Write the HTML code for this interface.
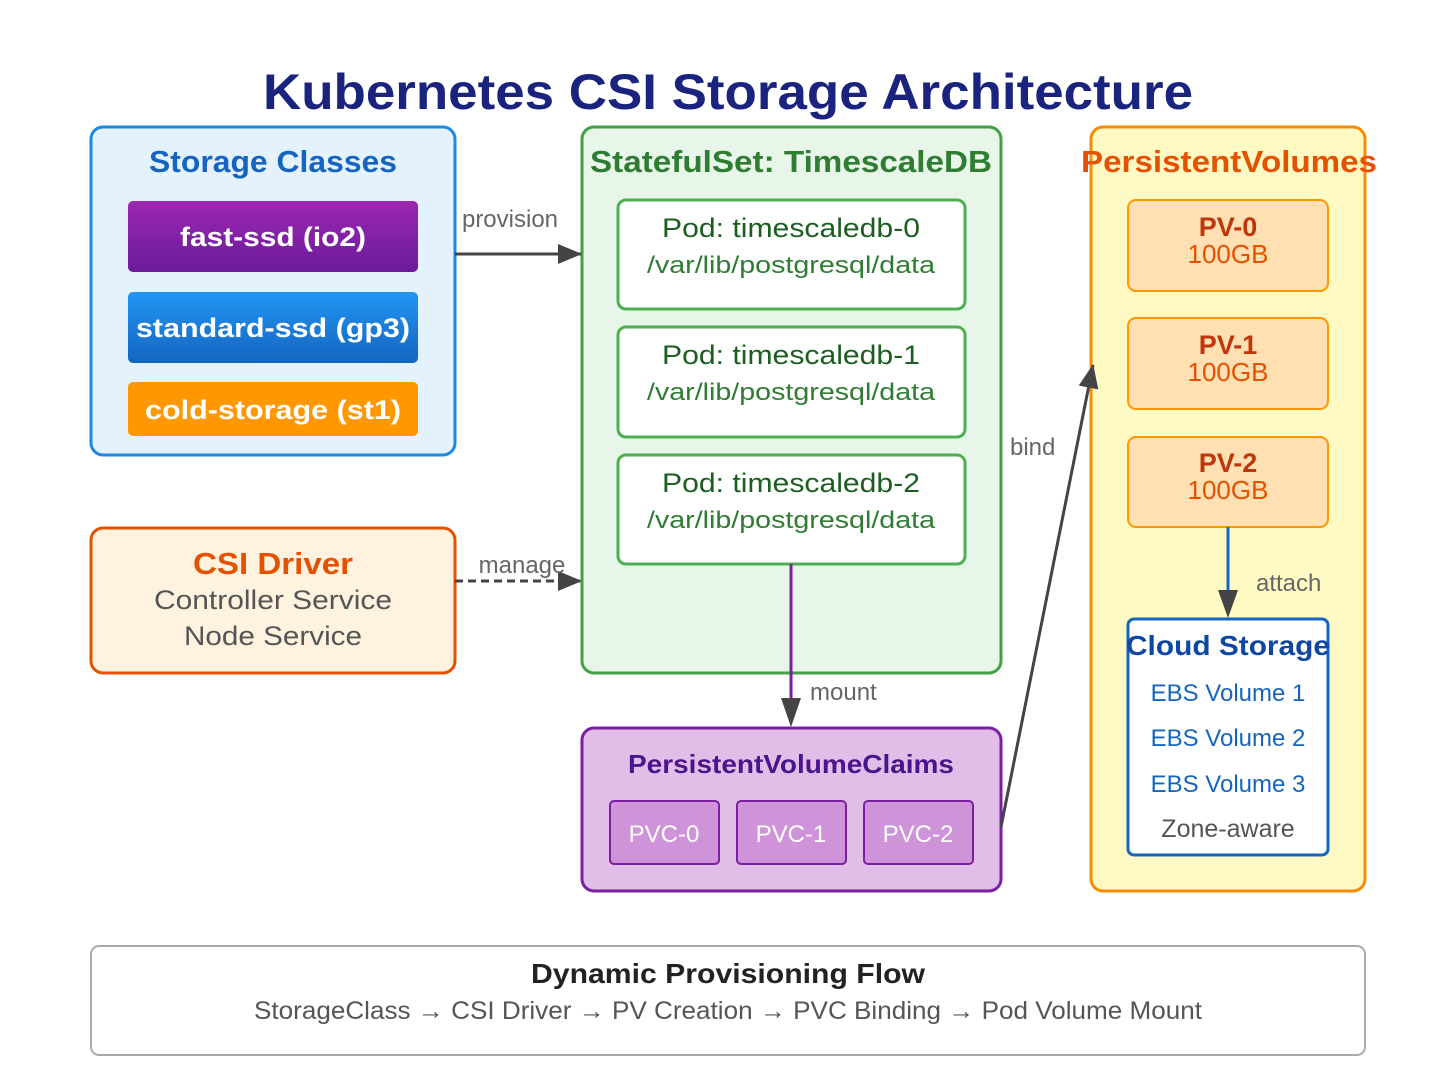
<!DOCTYPE html>
<html><head><meta charset="utf-8"><style>
html,body{margin:0;padding:0;background:#fff}
svg{display:block}
text{font-family:"Liberation Sans","DejaVu Sans",sans-serif}
</style></head><body>
<svg width="1456" height="1092" viewBox="0 0 1456 1092" xmlns="http://www.w3.org/2000/svg">
<defs>
<linearGradient id="gp" x1="0" y1="0" x2="0" y2="1"><stop offset="0" stop-color="#9c27b0"/><stop offset="1" stop-color="#6a1b9a"/></linearGradient>
<linearGradient id="gb" x1="0" y1="0" x2="0" y2="1"><stop offset="0" stop-color="#2196f3"/><stop offset="1" stop-color="#1565c0"/></linearGradient>
<marker id="ah2" markerWidth="24" markerHeight="20" refX="23" refY="10" orient="auto" markerUnits="userSpaceOnUse"><path d="M0,0 L24,10 L0,20 z" fill="#444"/></marker>
</defs>
<text x="728" y="109" text-anchor="middle" font-size="50" font-weight="bold" fill="#1a237e" textLength="930" lengthAdjust="spacingAndGlyphs">Kubernetes CSI Storage Architecture</text>

<rect x="91" y="127" width="364" height="328" rx="12" fill="#e3f2fd" stroke="#1e88e5" stroke-width="3"/>
<text x="273" y="172" text-anchor="middle" font-size="31" font-weight="bold" fill="#1565c0" textLength="248" lengthAdjust="spacingAndGlyphs">Storage Classes</text>
<rect x="128" y="201" width="290" height="71" rx="5" fill="url(#gp)"/>
<text x="273" y="246" text-anchor="middle" font-size="27" font-weight="bold" fill="#fff" textLength="186" lengthAdjust="spacingAndGlyphs">fast-ssd (io2)</text>
<rect x="128" y="292" width="290" height="71" rx="5" fill="url(#gb)"/>
<text x="273" y="337" text-anchor="middle" font-size="27" font-weight="bold" fill="#fff" textLength="274" lengthAdjust="spacingAndGlyphs">standard-ssd (gp3)</text>
<rect x="128" y="382" width="290" height="54" rx="5" fill="#ff9800"/>
<text x="273" y="419" text-anchor="middle" font-size="27" font-weight="bold" fill="#fff" textLength="256" lengthAdjust="spacingAndGlyphs">cold-storage (st1)</text>

<rect x="91" y="528" width="364" height="145" rx="12" fill="#fff3e0" stroke="#e65100" stroke-width="3"/>
<text x="273" y="574" text-anchor="middle" font-size="31" font-weight="bold" fill="#e65100" textLength="160" lengthAdjust="spacingAndGlyphs">CSI Driver</text>
<text x="273" y="609" text-anchor="middle" font-size="27" fill="#555" textLength="238" lengthAdjust="spacingAndGlyphs">Controller Service</text>
<text x="273" y="645" text-anchor="middle" font-size="27" fill="#555" textLength="178" lengthAdjust="spacingAndGlyphs">Node Service</text>

<rect x="582" y="127" width="419" height="546" rx="12" fill="#e8f5e9" stroke="#43a047" stroke-width="3"/>
<text x="791" y="172" text-anchor="middle" font-size="31" font-weight="bold" fill="#2e7d32" textLength="402" lengthAdjust="spacingAndGlyphs">StatefulSet: TimescaleDB</text>
<rect x="618" y="200" width="347" height="109" rx="8" fill="#fff" stroke="#4caf50" stroke-width="3"/>
<text x="791" y="237" text-anchor="middle" font-size="27" fill="#1b5e20" textLength="258" lengthAdjust="spacingAndGlyphs">Pod: timescaledb-0</text>
<text x="791" y="273" text-anchor="middle" font-size="24" fill="#2e7d32" textLength="288" lengthAdjust="spacingAndGlyphs">/var/lib/postgresql/data</text>
<rect x="618" y="327" width="347" height="110" rx="8" fill="#fff" stroke="#4caf50" stroke-width="3"/>
<text x="791" y="364" text-anchor="middle" font-size="27" fill="#1b5e20" textLength="258" lengthAdjust="spacingAndGlyphs">Pod: timescaledb-1</text>
<text x="791" y="400" text-anchor="middle" font-size="24" fill="#2e7d32" textLength="288" lengthAdjust="spacingAndGlyphs">/var/lib/postgresql/data</text>
<rect x="618" y="455" width="347" height="109" rx="8" fill="#fff" stroke="#4caf50" stroke-width="3"/>
<text x="791" y="492" text-anchor="middle" font-size="27" fill="#1b5e20" textLength="258" lengthAdjust="spacingAndGlyphs">Pod: timescaledb-2</text>
<text x="791" y="528" text-anchor="middle" font-size="24" fill="#2e7d32" textLength="288" lengthAdjust="spacingAndGlyphs">/var/lib/postgresql/data</text>

<rect x="582" y="728" width="419" height="163" rx="12" fill="#e1bee7" stroke="#7b1fa2" stroke-width="3"/>
<text x="791" y="773" text-anchor="middle" font-size="26" font-weight="bold" fill="#4a148c" textLength="326" lengthAdjust="spacingAndGlyphs">PersistentVolumeClaims</text>
<rect x="610" y="801" width="109" height="63" rx="4" fill="#ce93d8" stroke="#7b1fa2" stroke-width="2"/>
<text x="664" y="842" text-anchor="middle" font-size="24" fill="#fff">PVC-0</text>
<rect x="737" y="801" width="109" height="63" rx="4" fill="#ce93d8" stroke="#7b1fa2" stroke-width="2"/>
<text x="791" y="842" text-anchor="middle" font-size="24" fill="#fff">PVC-1</text>
<rect x="864" y="801" width="109" height="63" rx="4" fill="#ce93d8" stroke="#7b1fa2" stroke-width="2"/>
<text x="918" y="842" text-anchor="middle" font-size="24" fill="#fff">PVC-2</text>

<rect x="1091" y="127" width="274" height="764" rx="12" fill="#fff9c4" stroke="#fb8c00" stroke-width="3"/>
<text x="1229" y="172" text-anchor="middle" font-size="31" font-weight="bold" fill="#e65100" textLength="296" lengthAdjust="spacingAndGlyphs">PersistentVolumes</text>
<rect x="1128" y="200" width="200" height="91" rx="8" fill="#ffe0b2" stroke="#ff9800" stroke-width="2"/>
<text x="1228" y="236" text-anchor="middle" font-size="27" font-weight="bold" fill="#bf360c">PV-0</text>
<text x="1228" y="263" text-anchor="middle" font-size="26" fill="#e65100">100GB</text>
<rect x="1128" y="318" width="200" height="91" rx="8" fill="#ffe0b2" stroke="#ff9800" stroke-width="2"/>
<text x="1228" y="354" text-anchor="middle" font-size="27" font-weight="bold" fill="#bf360c">PV-1</text>
<text x="1228" y="381" text-anchor="middle" font-size="26" fill="#e65100">100GB</text>
<rect x="1128" y="437" width="200" height="90" rx="8" fill="#ffe0b2" stroke="#ff9800" stroke-width="2"/>
<text x="1228" y="472" text-anchor="middle" font-size="27" font-weight="bold" fill="#bf360c">PV-2</text>
<text x="1228" y="499" text-anchor="middle" font-size="26" fill="#e65100">100GB</text>

<rect x="1128" y="619" width="200" height="236" rx="6" fill="#fff" stroke="#1565c0" stroke-width="3"/>
<text x="1228" y="655" text-anchor="middle" font-size="28" font-weight="bold" fill="#0d47a1" textLength="204" lengthAdjust="spacingAndGlyphs">Cloud Storage</text>
<text x="1228" y="701" text-anchor="middle" font-size="24" fill="#1565c0">EBS Volume 1</text>
<text x="1228" y="746" text-anchor="middle" font-size="24" fill="#1565c0">EBS Volume 2</text>
<text x="1228" y="792" text-anchor="middle" font-size="24" fill="#1565c0">EBS Volume 3</text>
<text x="1228" y="837" text-anchor="middle" font-size="25" fill="#555">Zone-aware</text>

<line x1="455" y1="254" x2="581" y2="254" stroke="#444" stroke-width="3" marker-end="url(#ah2)"/>
<text x="510" y="227" text-anchor="middle" font-size="24" fill="#666">provision</text>
<line x1="455" y1="581" x2="581" y2="581" stroke="#444" stroke-width="3" stroke-dasharray="8,5" marker-end="url(#ah2)"/>
<text x="522" y="573" text-anchor="middle" font-size="24" fill="#666">manage</text>
<line x1="791" y1="564" x2="791" y2="706" stroke="#7b1fa2" stroke-width="3"/>
<path d="M781,698 L801,698 L791,727 z" fill="#444"/>
<text x="810" y="700" font-size="24" fill="#666">mount</text>
<line x1="1001" y1="827" x2="1093" y2="365" stroke="#444" stroke-width="3" marker-end="url(#ah2)"/>
<text x="1010" y="455" font-size="24" fill="#666">bind</text>
<line x1="1228" y1="527" x2="1228" y2="598" stroke="#1565c0" stroke-width="3"/>
<path d="M1218,590 L1238,590 L1228,618 z" fill="#444"/>
<text x="1256" y="591" font-size="24" fill="#666">attach</text>

<rect x="91" y="946" width="1274" height="109" rx="8" fill="#fff" stroke="#aaa" stroke-width="2"/>
<text x="728" y="983" text-anchor="middle" font-size="28" font-weight="bold" fill="#222" textLength="394" lengthAdjust="spacingAndGlyphs">Dynamic Provisioning Flow</text>
<text x="728" y="1019" text-anchor="middle" font-size="25" fill="#555" textLength="948" lengthAdjust="spacingAndGlyphs">StorageClass → CSI Driver → PV Creation → PVC Binding → Pod Volume Mount</text>
</svg>
</body></html>
